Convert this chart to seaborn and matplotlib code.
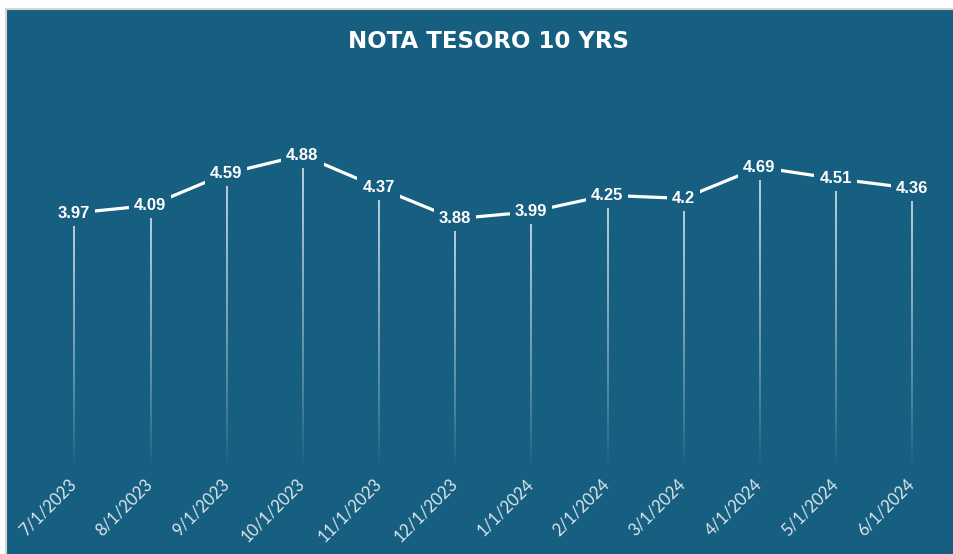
import numpy as np
import pandas as pd
import matplotlib
matplotlib.use('Agg')
import matplotlib.pyplot as plt
import seaborn as sns
from matplotlib.patches import Rectangle

# Data
dates = ['7/1/2023', '8/1/2023', '9/1/2023', '10/1/2023', '11/1/2023', '12/1/2023',
         '1/1/2024', '2/1/2024', '3/1/2024', '4/1/2024', '5/1/2024', '6/1/2024']
rates = [3.97, 4.09, 4.59, 4.88, 4.37, 3.88, 3.99, 4.25, 4.2, 4.69, 4.51, 4.36]
title = 'NOTA TESORO 10 YRS'

bg = '#175f80'
df = pd.DataFrame({'pos': np.arange(len(dates)), 'rate': rates, 'date': dates})

sns.set_style('white')
fig = plt.figure(figsize=(9.54, 5.54), dpi=100)
fig.patch.set_facecolor('white')
fig.patches.append(Rectangle((6 / 954, -0.05), 1.0, 1.05 - 9 / 554, transform=fig.transFigure,
                             facecolor=bg, edgecolor='#d4d4d4', linewidth=1.5, zorder=-5))

ax = fig.add_axes([0.0376, 0.1588, 0.958, 0.6325])
ax.set_facecolor('none')
ax.set_zorder(2)

# fading drop lines from each point down to zero (vertical alpha gradient)
grad = np.ones((200, 1, 4))
grad[:, 0, 3] = 0.72 * np.linspace(1, 0, 200) ** 0.8
half_w = 0.0075
for x, v in zip(df['pos'], df['rate']):
    ax.imshow(grad, extent=[x - half_w, x + half_w, 0, v], aspect='auto',
              interpolation='bilinear', zorder=1)

sns.lineplot(data=df, x='pos', y='rate', ax=ax, color='white', linewidth=2.3,
             solid_capstyle='butt', zorder=2)

for x, v in zip(df['pos'], df['rate']):
    ax.text(x, v, f'{v:g}', ha='center', va='center', color='white', fontsize=12,
            fontweight='bold', family='Liberation Sans', zorder=3,
            bbox=dict(boxstyle='square,pad=0.3', facecolor=bg, edgecolor='none'))

ax.set_xlim(-0.5, len(dates) - 0.5)
ax.set_ylim(0, 5.5)
ax.set_xticks(df['pos'])
ax.set_xticklabels(dates, rotation=45, ha='right', va='center', rotation_mode='anchor',
                   color='#dce6ec', fontsize=12, family='Lato')
ax.tick_params(axis='x', length=0, pad=11)
ax.set_yticks([])
ax.set_xlabel('')
ax.set_ylabel('')
sns.despine(ax=ax, left=True, bottom=True)

fig.text(488 / 954, 1 - 42 / 554, title, ha='center', va='center', color='white',
         fontsize=16.5, fontweight='bold', family='DejaVu Sans')

fig.savefig('out.png', dpi=100, facecolor=fig.get_facecolor())
